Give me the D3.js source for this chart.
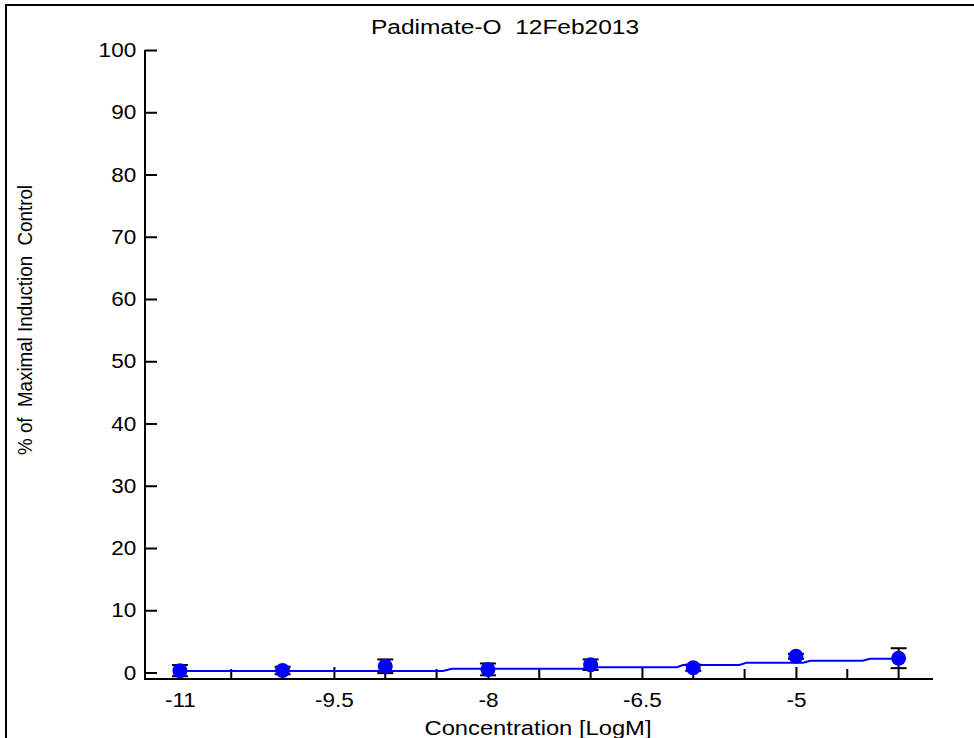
<!DOCTYPE html>
<html>
<head>
<meta charset="utf-8">
<script src="https://cdn.jsdelivr.net/npm/d3@7"></script>
<style>
  html, body { margin: 0; padding: 0; background: #fff; }
  svg { display: block; font-family: "Liberation Sans", Arial, sans-serif; }
</style>
</head>
<body>
<svg id="chart" width="974" height="738"></svg>
<script>
// Measured responses (% of maximal induction control) per log concentration
const logConc = [-11, -10, -9, -8, -7, -6, -5, -4];
const meanPct = [0.3, 0.32, 1.0, 0.5, 1.25, 0.77, 2.6, 2.3];
const sdPct   = [0.9, 0.6, 1.1, 0.95, 0.85, 0.5, 0.4, 1.6];

// Fitted concentration-response curve, sampled
const fitLogConc = [-11, -8.44, -8.35, -7.0, -6.93, -6.16, -6.10, -5.55, -5.48, -4.93, -4.86, -4.35, -4.28, -4.0];
const fitPct     = [0.24, 0.24, 0.61, 0.61, 0.85, 0.85, 1.21, 1.21, 1.58, 1.58, 1.9, 1.9, 2.22, 2.22];

// Axis ticks
const yTicks = [0, 10, 20, 30, 40, 50, 60, 70, 80, 90, 100];
const xLabelTicks = [-11, -9.5, -8, -6.5, -5];
const xMinorTicks = [-10.5, -10, -9, -8.5, -7.5, -7, -6, -5.5, -4.5, -4];

const titleText = "Padimate-O  12Feb2013";
const xTitle = "Concentration [LogM]";
const yTitle = "% of  Maximal Induction  Control";

const svg = d3.select("#chart");

const x = d3.scaleLinear().domain([-11.34, -3.665]).range([145, 933]);
const y = d3.scaleLinear().domain([0, 100]).range([672.5, 50]);
const axisY = 679;

// Outer frame
svg.append("rect")
  .attr("x", 6).attr("y", 5).attr("width", 1000).attr("height", 800)
  .attr("fill", "none").attr("stroke", "#000").attr("stroke-width", 2);

// Title
svg.append("text")
  .attr("x", 505).attr("y", 34)
  .attr("text-anchor", "middle")
  .attr("font-size", 20)
  .attr("textLength", 268).attr("lengthAdjust", "spacingAndGlyphs")
  .style("white-space", "pre")
  .text(titleText);

// Y axis
const yAxis = d3.axisLeft(y).tickValues(yTicks).tickSizeInner(-12).tickSizeOuter(0).tickPadding(8);
const gy = svg.append("g").attr("transform", `translate(${x.range()[0]},0)`).call(yAxis);
gy.select(".domain").remove();
gy.selectAll(".tick line").attr("stroke", "#000").attr("stroke-width", 2);
gy.selectAll(".tick text")
  .attr("fill", "#000").attr("font-size", 20.5)
  .attr("font-family", "Liberation Sans, Arial, sans-serif")
  .attr("transform", "scale(1.1,1)");
svg.append("line")
  .attr("x1", x.range()[0]).attr("x2", x.range()[0])
  .attr("y1", y(100)).attr("y2", axisY + 1)
  .attr("stroke", "#000").attr("stroke-width", 2);

// X axis: labelled ticks plus minor ticks
const xAxis = d3.axisBottom(x).tickValues(xLabelTicks).tickFormat(d => String(d))
  .tickSizeInner(-12).tickSizeOuter(0).tickPadding(13);
const gx = svg.append("g").attr("transform", `translate(0,${axisY})`).call(xAxis);
gx.select(".domain").remove();
gx.selectAll(".tick line").attr("stroke", "#000").attr("stroke-width", 2);
gx.selectAll(".tick text")
  .attr("fill", "#000").attr("font-size", 20.5)
  .attr("font-family", "Liberation Sans, Arial, sans-serif")
  .attr("transform", "scale(1.1,1)");
gx.selectAll(".minor")
  .data(xMinorTicks).enter().append("line")
  .attr("class", "minor")
  .attr("x1", d => x(d)).attr("x2", d => x(d))
  .attr("y1", 0).attr("y2", -10)
  .attr("stroke", "#000").attr("stroke-width", 2);
svg.append("line")
  .attr("x1", x.range()[0] - 1).attr("x2", x.range()[1])
  .attr("y1", axisY).attr("y2", axisY)
  .attr("stroke", "#000").attr("stroke-width", 2);

// Axis titles
svg.append("text")
  .attr("x", 538).attr("y", 735)
  .attr("text-anchor", "middle")
  .attr("font-size", 20.5)
  .attr("textLength", 227).attr("lengthAdjust", "spacingAndGlyphs")
  .text(xTitle);

svg.append("text")
  .attr("transform", "translate(32,320) rotate(-90)")
  .attr("text-anchor", "middle")
  .attr("font-size", 21)
  .attr("textLength", 270).attr("lengthAdjust", "spacingAndGlyphs")
  .style("white-space", "pre")
  .text(yTitle);

// Fitted curve
const fitData = fitLogConc.map((d, i) => ({ x: d, y: fitPct[i] }));
svg.append("path")
  .datum(fitData)
  .attr("fill", "none")
  .attr("stroke", "#0000ff")
  .attr("stroke-width", 2)
  .attr("d", d3.line().x(d => x(d.x)).y(d => y(d.y)));

// Error bars
const pts = logConc.map((d, i) => ({ x: d, m: meanPct[i], s: sdPct[i] }));
const eb = svg.append("g").attr("stroke", "#000").attr("stroke-width", 2);
pts.forEach(p => {
  eb.append("line")
    .attr("x1", x(p.x)).attr("x2", x(p.x))
    .attr("y1", y(p.m + p.s)).attr("y2", y(p.m - p.s));
  [p.m + p.s, p.m - p.s].forEach(v => {
    eb.append("line")
      .attr("x1", x(p.x) - 8).attr("x2", x(p.x) + 8)
      .attr("y1", y(v)).attr("y2", y(v));
  });
});

// Data points
svg.append("g").selectAll("circle")
  .data(pts).enter().append("circle")
  .attr("cx", d => x(d.x)).attr("cy", d => y(d.m))
  .attr("r", 7.5)
  .attr("fill", "#0000ff");
</script>
</body>
</html>
